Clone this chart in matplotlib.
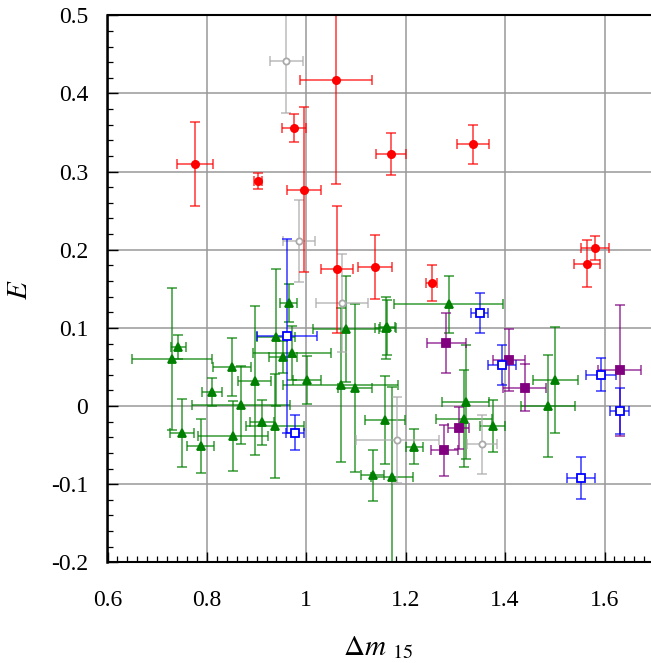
import matplotlib
matplotlib.use("Agg")
import matplotlib.pyplot as plt
from matplotlib.ticker import MultipleLocator

plt.rcParams["font.family"] = ["Liberation Serif", "DejaVu Serif"]
plt.rcParams["mathtext.fontset"] = "stix"

# red filled circles
red_x = [0.776, 0.903, 0.976, 0.996, 1.060, 1.061, 1.138, 1.170, 1.335, 1.252, 1.581, 1.565]
red_y = [0.310, 0.288, 0.356, 0.277, 0.417, 0.175, 0.178, 0.3225, 0.335, 0.158, 0.202, 0.182]
red_xerr = [0.036, 0.008, 0.024, 0.034, 0.072, 0.032, 0.034, 0.030, 0.032, 0.011, 0.028, 0.026]
red_yerr = [0.054, 0.010, 0.018, 0.106, 0.133, 0.081, 0.041, 0.027, 0.025, 0.023, 0.015, 0.030]

# grey open circles
grey_x = [0.960, 0.985, 1.072, 1.183, 1.3535]
grey_y = [0.442, 0.211, 0.132, -0.043, -0.049]
grey_xerr = [0.0325, 0.0325, 0.052, 0.083, 0.031]
grey_yerr = [0.067, 0.052, 0.063, 0.055, 0.0375]

# blue open squares
blue_x = [0.961, 0.977, 1.349, 1.394, 1.593, 1.6305, 1.553]
blue_y = [0.090, -0.034, 0.119, 0.0525, 0.040, -0.0064, -0.0925]
blue_xerr = [0.061, 0.018, 0.017, 0.028, 0.0305, 0.0185, 0.0275]
blue_yerr = [0.124, 0.0224, 0.0256, 0.026, 0.021, 0.029, 0.027]

# purple filled squares
purple_x = [1.2817, 1.4072, 1.4394, 1.6305, 1.3066, 1.2777]
purple_y = [0.0806, 0.0593, 0.0234, 0.0457, -0.0282, -0.0567]
purple_xerr = [0.039, 0.0325, 0.043, 0.043, 0.021, 0.0275]
purple_yerr = [0.038, 0.0395, 0.030, 0.084, 0.027, 0.033]

# green triangles
green_x = [0.7304, 0.7425, 0.7505, 0.7875, 0.8103, 0.8505, 0.8525, 0.8692, 0.8962, 0.9109,
           0.937, 0.9397, 0.9531, 0.9646, 0.9718, 1.0014, 1.0692, 1.0799, 1.098, 1.1336,
           1.160, 1.163, 1.159, 1.1724, 1.2173, 1.287, 1.3207, 1.3167, 1.375, 1.4857, 1.501]
green_y = [0.0601, 0.0755, -0.0346, -0.0512, 0.0183, 0.0495, -0.038, 0.0013, 0.0324, -0.0209,
           -0.0256, 0.0879, 0.0627, 0.1322, 0.0678, 0.0333, 0.0269, 0.0982, 0.0234, -0.0887,
           0.0998, 0.1005, -0.018, -0.0909, -0.052, 0.130, 0.0051, -0.0162, -0.0256, 0.0001, 0.0334]
green_xerr = [0.0805, 0.0155, 0.0245, 0.027, 0.020, 0.038, 0.071, 0.099, 0.033, 0.025,
              0.0587, 0.038, 0.0275, 0.017, 0.0785, 0.0285, 0.1157, 0.066, 0.035, 0.0235,
              0.021, 0.0155, 0.040, 0.043, 0.017, 0.1097, 0.047, 0.056, 0.025, 0.054, 0.045]
green_yerr = [0.0906, 0.0156, 0.043, 0.034, 0.0177, 0.0373, 0.045, 0.0505, 0.095, 0.029,
              0.067, 0.088, 0.021, 0.0243, 0.034, 0.0305, 0.099, 0.068, 0.1075, 0.033,
              0.040, 0.035, 0.056, 0.1156, 0.0224, 0.037, 0.073, 0.062, 0.033, 0.0655, 0.068]

W, H = 651, 663
fig = plt.figure(figsize=(W / 100, H / 100), dpi=100)
left_px, right_px, top_px, bottom_px = 107.5, 651, 15.3, 562.3
ax = fig.add_axes([left_px / W, 1 - bottom_px / H, (right_px - left_px) / W, (bottom_px - top_px) / H])

series = [
    (green_x, green_y, green_xerr, green_yerr, "^", "#008000", "#008000", 6),
    (grey_x, grey_y, grey_xerr, grey_yerr, "o", "white", "#aaaaaa", 4.5),
    (purple_x, purple_y, purple_xerr, purple_yerr, "s", "#800080", "#800080", 5.5),
    (blue_x, blue_y, blue_xerr, blue_yerr, "s", "white", "#0000ff", 5.5),
    (red_x, red_y, red_xerr, red_yerr, "o", "#ff0000", "#ff0000", 5.2),
]
for xs, ys, xe, ye, marker, face, color, ms in series:
    ax.errorbar(xs, ys, xerr=xe, yerr=ye, fmt="none", ecolor=color, elinewidth=1.2,
                capsize=3.5, capthick=1.2, alpha=0.72, zorder=2)
    ax.plot(xs, ys, linestyle="none", marker=marker, markersize=ms, markerfacecolor=face,
            markeredgecolor=color, markeredgewidth=1.3, zorder=3)

ax.set_xlim(0.6, 0.6 + (right_px - left_px) / 497.0)
ax.set_ylim(-0.2, 0.5)
ax.xaxis.set_minor_locator(MultipleLocator(0.02))
ax.yaxis.set_minor_locator(MultipleLocator(0.02))
ax.set_xticks([0.6, 0.8, 1.0, 1.2, 1.4, 1.6])
ax.set_xticklabels(["0.6", "0.8", "1", "1.2", "1.4", "1.6"])
ax.set_yticks([-0.2, -0.1, 0, 0.1, 0.2, 0.3, 0.4, 0.5])
ax.set_yticklabels(["-0.2", "-0.1", "0", "0.1", "0.2", "0.3", "0.4", "0.5"])
ax.grid(True, which="major", color="#999999", linewidth=1.1, zorder=0)
ax.set_axisbelow(True)

ax.tick_params(which="both", direction="in", top=False, right=False, labelsize=17)
ax.tick_params(axis="x", which="major", length=7, width=1, pad=20)
ax.tick_params(axis="y", which="major", length=8, width=1, pad=14)
ax.tick_params(which="minor", length=4, width=0.9)
ax.spines["right"].set_visible(False)
ax.spines["left"].set_linewidth(1.8)
ax.spines["bottom"].set_linewidth(1.5)
ax.spines["top"].set_linewidth(1.5)

fig.text(20 / W, 1 - 290 / H, r"$E$", rotation=90, ha="center", va="center", fontsize=21)
fig.text(378 / W, 1 - 648 / H, r"$\Delta m\ _{15}$", ha="center", va="center", fontsize=21)

fig.savefig("out.png", dpi=100)
